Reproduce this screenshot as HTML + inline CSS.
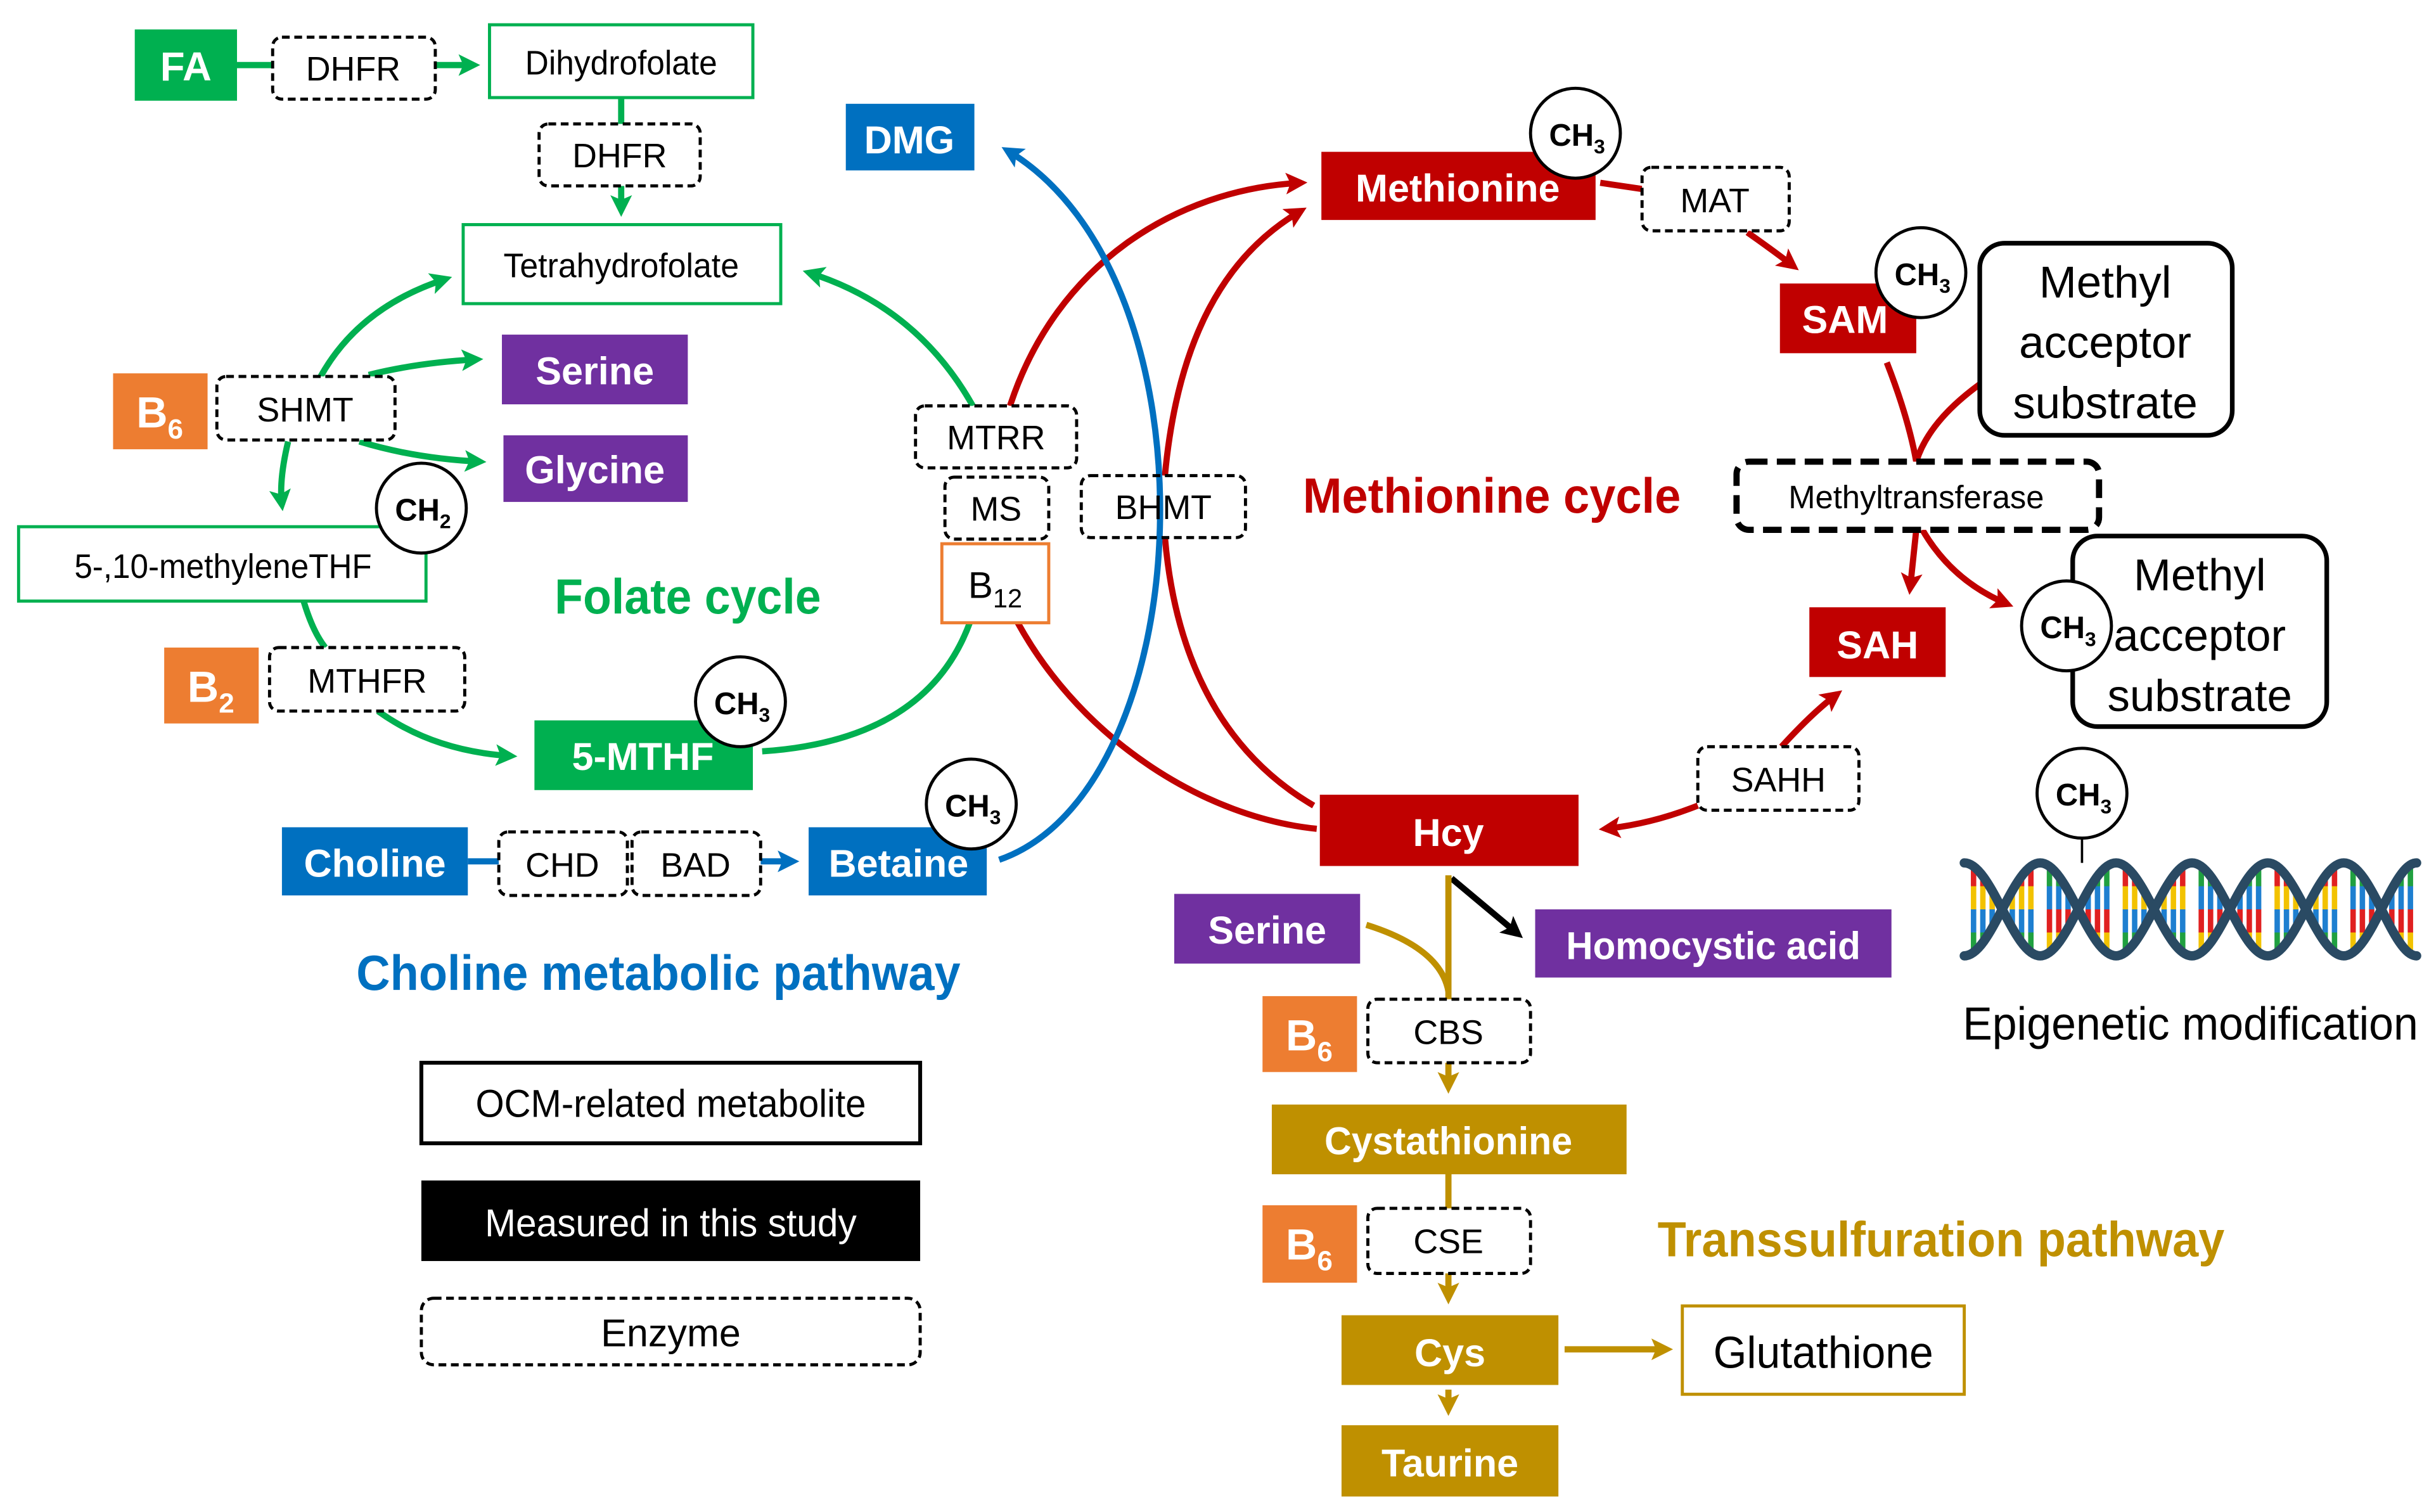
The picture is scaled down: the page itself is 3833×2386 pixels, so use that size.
<!DOCTYPE html>
<html><head><meta charset="utf-8"><style>
html,body{margin:0;padding:0;background:#fff;}
svg{display:block;}
text{font-family:"Liberation Sans Narrow","Liberation Sans",Arial,sans-serif;}
.w{fill:#fff;font-weight:bold;}
</style></head><body>
<svg width="3833" height="2386" viewBox="0 0 1568 976" preserveAspectRatio="none" xmlns="http://www.w3.org/2000/svg">
<defs>
<marker id="ag" markerUnits="userSpaceOnUse" markerWidth="18" markerHeight="18" refX="10" refY="7" orient="auto"><path d="M0,0 L14,7 L0,14 L3,7z" fill="#00b050"/></marker>
<marker id="ab" markerUnits="userSpaceOnUse" markerWidth="18" markerHeight="18" refX="10" refY="7" orient="auto"><path d="M0,0 L14,7 L0,14 L3,7z" fill="#0070c0"/></marker>
<marker id="ar" markerUnits="userSpaceOnUse" markerWidth="18" markerHeight="18" refX="10" refY="7" orient="auto"><path d="M0,0 L14,7 L0,14 L3,7z" fill="#c00000"/></marker>
<marker id="ay" markerUnits="userSpaceOnUse" markerWidth="18" markerHeight="18" refX="10" refY="7" orient="auto"><path d="M0,0 L14,7 L0,14 L3,7z" fill="#bf9000"/></marker>
<marker id="ak" markerUnits="userSpaceOnUse" markerWidth="18" markerHeight="18" refX="10" refY="7" orient="auto"><path d="M0,0 L14,7 L0,14 L3,7z" fill="#000"/></marker>
<linearGradient id="rg" gradientUnits="userSpaceOnUse" x1="0" y1="557" x2="0" y2="617">
<stop offset="0" stop-color="#e02020"/><stop offset=".25" stop-color="#e02020"/><stop offset=".25" stop-color="#f2c200"/><stop offset=".5" stop-color="#f2c200"/><stop offset=".5" stop-color="#1e7fd0"/><stop offset=".75" stop-color="#1e7fd0"/><stop offset=".75" stop-color="#20a040"/><stop offset="1" stop-color="#20a040"/></linearGradient>
<linearGradient id="rg2" gradientUnits="userSpaceOnUse" x1="0" y1="557" x2="0" y2="617">
<stop offset="0" stop-color="#20a040"/><stop offset=".25" stop-color="#20a040"/><stop offset=".25" stop-color="#1e7fd0"/><stop offset=".5" stop-color="#1e7fd0"/><stop offset=".5" stop-color="#e02020"/><stop offset=".75" stop-color="#e02020"/><stop offset=".75" stop-color="#f2c200"/><stop offset="1" stop-color="#f2c200"/></linearGradient>
</defs>
<rect width="1568" height="976" fill="#fff"/>

<g fill="none" stroke-width="4">
<line x1="153" y1="42" x2="176" y2="42" stroke="#00b050"/>
<line x1="281" y1="42" x2="306" y2="42" stroke="#00b050" marker-end="url(#ag)"/>
<line x1="401" y1="63" x2="401" y2="80" stroke="#00b050"/>
<line x1="401" y1="120" x2="401" y2="136" stroke="#00b050" marker-end="url(#ag)"/>
<path d="M207,243 Q232,198 288,180" stroke="#00b050" marker-end="url(#ag)"/>
<path d="M238,242 Q270,234 308,232" stroke="#00b050" marker-end="url(#ag)"/>
<path d="M232,285 Q268,296 310,298" stroke="#00b050" marker-end="url(#ag)"/>
<path d="M186,285 Q180,310 182,326" stroke="#00b050" marker-end="url(#ag)"/>
<path d="M196,388 Q202,408 210,418" stroke="#00b050"/>
<path d="M244,459 Q280,485 330,488" stroke="#00b050" marker-end="url(#ag)"/>
<path d="M492,485 Q598,478 626,402" stroke="#00b050"/>
<path d="M628,262 Q592,198 522,176" stroke="#00b050" marker-end="url(#ag)"/>
<path d="M652,262 C682,170 760,122 840,118" stroke="#c00000" marker-end="url(#ar)"/>
<path d="M752,307 C760,220 790,165 840,136" stroke="#c00000" marker-end="url(#ar)"/>
<path d="M657,402 C700,480 780,528 850,535" stroke="#c00000"/>
<path d="M752,347 C760,440 800,492 848,520" stroke="#c00000"/>
<path d="M1033,118 L1060,122" stroke="#c00000"/>
<path d="M1128,150 Q1145,162 1158,172" stroke="#c00000" marker-end="url(#ar)"/>
<path d="M1218,234 Q1232,270 1237,298" stroke="#c00000"/>
<path d="M1278,248 Q1245,272 1237,298" stroke="#c00000"/>
<path d="M1237,342 L1233,380" stroke="#c00000" marker-end="url(#ar)"/>
<path d="M1241,342 Q1260,375 1296,390" stroke="#c00000" marker-end="url(#ar)"/>
<path d="M1150,482 Q1170,460 1186,448" stroke="#c00000" marker-end="url(#ar)"/>
<path d="M1096,520 Q1066,532 1036,535" stroke="#c00000" marker-end="url(#ar)"/>
<line x1="302" y1="556" x2="322" y2="556" stroke="#0070c0"/>
<line x1="491" y1="556" x2="512" y2="556" stroke="#0070c0" marker-end="url(#ab)"/>
<path d="M645,555 C775,510 790,180 650,97" stroke="#0070c0" marker-end="url(#ab)"/>
<line x1="937" y1="567" x2="980" y2="603" stroke="#000" marker-end="url(#ak)"/>
<line x1="935" y1="565" x2="935" y2="645" stroke="#bf9000"/>
<path d="M882,597 Q930,612 935,640" stroke="#bf9000"/>
<line x1="935" y1="686" x2="935" y2="702" stroke="#bf9000" marker-end="url(#ay)"/>
<line x1="935" y1="758" x2="935" y2="780" stroke="#bf9000"/>
<line x1="935" y1="822" x2="935" y2="838" stroke="#bf9000" marker-end="url(#ay)"/>
<line x1="1010" y1="871" x2="1076" y2="871" stroke="#bf9000" marker-end="url(#ay)"/>
<line x1="935" y1="897" x2="935" y2="910" stroke="#bf9000" marker-end="url(#ay)"/>
</g>

<rect x="87" y="19" width="66" height="46" fill="#00b050"/>
<text x="120" y="52" font-size="26" class="w" text-anchor="middle">FA</text>
<rect x="176" y="24" width="105" height="40" rx="6" fill="#fff" stroke="#000" stroke-width="2" stroke-dasharray="5,3"/>
<text x="228" y="52" font-size="22" text-anchor="middle">DHFR</text>
<rect x="316" y="16" width="170" height="47" fill="#fff" stroke="#00b050" stroke-width="2"/>
<text x="401" y="48" font-size="22" text-anchor="middle" textLength="124" lengthAdjust="spacingAndGlyphs">Dihydrofolate</text>
<rect x="348" y="80" width="104" height="40" rx="6" fill="#fff" stroke="#000" stroke-width="2" stroke-dasharray="5,3"/>
<text x="400" y="108" font-size="22" text-anchor="middle">DHFR</text>
<rect x="299" y="145" width="205" height="51" fill="#fff" stroke="#00b050" stroke-width="2"/>
<text x="401" y="179" font-size="22" text-anchor="middle" textLength="152" lengthAdjust="spacingAndGlyphs">Tetrahydrofolate</text>

<rect x="73" y="241" width="61" height="49" fill="#ed7d31"/>
<text x="88" y="276" font-size="28" class="w">B<tspan font-size="18" dy="7">6</tspan></text>
<rect x="140" y="243" width="115" height="41" rx="6" fill="#fff" stroke="#000" stroke-width="2" stroke-dasharray="5,3"/>
<text x="197" y="272" font-size="22" text-anchor="middle">SHMT</text>
<rect x="324" y="216" width="120" height="45" fill="#7030a0"/>
<text x="384" y="248" font-size="25" class="w" text-anchor="middle">Serine</text>
<rect x="325" y="281" width="119" height="43" fill="#7030a0"/>
<text x="384" y="312" font-size="25" class="w" text-anchor="middle">Glycine</text>

<rect x="12" y="340" width="263" height="48" fill="#fff" stroke="#00b050" stroke-width="2"/>
<text x="144" y="373" font-size="22" text-anchor="middle" textLength="192" lengthAdjust="spacingAndGlyphs">5-,10-methyleneTHF</text>
<circle cx="272" cy="328" r="29" fill="#fff" stroke="#000" stroke-width="2"/>
<text x="255" y="336" font-size="20" font-weight="bold">CH<tspan font-size="13" dy="5">2</tspan></text>

<text x="444" y="396" font-size="32" font-weight="bold" fill="#00b050" text-anchor="middle" textLength="172" lengthAdjust="spacingAndGlyphs">Folate cycle</text>

<rect x="106" y="418" width="61" height="49" fill="#ed7d31"/>
<text x="121" y="453" font-size="28" class="w">B<tspan font-size="18" dy="7">2</tspan></text>
<rect x="174" y="418" width="126" height="41" rx="6" fill="#fff" stroke="#000" stroke-width="2" stroke-dasharray="5,3"/>
<text x="237" y="447" font-size="22" text-anchor="middle">MTHFR</text>
<rect x="345" y="465" width="141" height="45" fill="#00b050"/>
<text x="415" y="497" font-size="25" class="w" text-anchor="middle">5-MTHF</text>
<circle cx="478" cy="453" r="29" fill="#fff" stroke="#000" stroke-width="2"/>
<text x="461" y="461" font-size="20" font-weight="bold">CH<tspan font-size="13" dy="5">3</tspan></text>

<rect x="182" y="534" width="120" height="44" fill="#0070c0"/>
<text x="242" y="566" font-size="25" class="w" text-anchor="middle">Choline</text>
<rect x="322" y="537" width="83" height="41" rx="6" fill="#fff" stroke="#000" stroke-width="2" stroke-dasharray="5,3"/>
<text x="363" y="566" font-size="22" text-anchor="middle">CHD</text>
<rect x="408" y="537" width="83" height="41" rx="6" fill="#fff" stroke="#000" stroke-width="2" stroke-dasharray="5,3"/>
<text x="449" y="566" font-size="22" text-anchor="middle">BAD</text>
<rect x="522" y="534" width="115" height="44" fill="#0070c0"/>
<text x="580" y="566" font-size="25" class="w" text-anchor="middle">Betaine</text>
<circle cx="627" cy="519" r="29" fill="#fff" stroke="#000" stroke-width="2"/>
<text x="610" y="527" font-size="20" font-weight="bold">CH<tspan font-size="13" dy="5">3</tspan></text>
<text x="425" y="639" font-size="32" font-weight="bold" fill="#0070c0" text-anchor="middle" textLength="390" lengthAdjust="spacingAndGlyphs">Choline metabolic pathway</text>

<rect x="546" y="67" width="83" height="43" fill="#0070c0"/>
<text x="587" y="99" font-size="25" class="w" text-anchor="middle">DMG</text>

<rect x="591" y="262" width="104" height="40" rx="6" fill="#fff" stroke="#000" stroke-width="2" stroke-dasharray="5,3"/>
<text x="643" y="290" font-size="22" text-anchor="middle">MTRR</text>
<rect x="610" y="308" width="67" height="40" rx="6" fill="#fff" stroke="#000" stroke-width="2" stroke-dasharray="5,3"/>
<text x="643" y="336" font-size="22" text-anchor="middle">MS</text>
<rect x="608" y="351" width="69" height="51" fill="#fff" stroke="#ed7d31" stroke-width="2"/>
<text x="625" y="386" font-size="24">B<tspan font-size="17" dy="6">12</tspan></text>
<rect x="698" y="307" width="106" height="40" rx="6" fill="none" stroke="#000" stroke-width="2" stroke-dasharray="5,3"/>
<text x="751" y="335" font-size="22" text-anchor="middle">BHMT</text>

<rect x="853" y="98" width="177" height="44" fill="#c00000"/>
<text x="941" y="130" font-size="25" class="w" text-anchor="middle">Methionine</text>
<circle cx="1017" cy="86" r="29" fill="#fff" stroke="#000" stroke-width="2"/>
<text x="1000" y="94" font-size="20" font-weight="bold">CH<tspan font-size="13" dy="5">3</tspan></text>
<rect x="1060" y="108" width="95" height="41" rx="6" fill="#fff" stroke="#000" stroke-width="2" stroke-dasharray="5,3"/>
<text x="1107" y="137" font-size="22" text-anchor="middle">MAT</text>
<rect x="1149" y="183" width="88" height="45" fill="#c00000"/>
<text x="1191" y="215" font-size="25" class="w" text-anchor="middle">SAM</text>
<circle cx="1240" cy="176" r="29" fill="#fff" stroke="#000" stroke-width="2"/>
<text x="1223" y="184" font-size="20" font-weight="bold">CH<tspan font-size="13" dy="5">3</tspan></text>
<rect x="1278" y="157" width="163" height="124" rx="16" fill="#fff" stroke="#000" stroke-width="3"/>
<text x="1359" y="192" font-size="29" text-anchor="middle">Methyl</text>
<text x="1359" y="231" font-size="29" text-anchor="middle">acceptor</text>
<text x="1359" y="270" font-size="29" text-anchor="middle">substrate</text>
<text x="963" y="331" font-size="32" font-weight="bold" fill="#c00000" text-anchor="middle" textLength="244" lengthAdjust="spacingAndGlyphs">Methionine cycle</text>
<rect x="1121" y="298" width="234" height="44" rx="8" fill="#fff" stroke="#000" stroke-width="4" stroke-dasharray="12,6"/>
<text x="1237" y="328" font-size="21" text-anchor="middle" textLength="165" lengthAdjust="spacingAndGlyphs">Methyltransferase</text>
<rect x="1168" y="392" width="88" height="45" fill="#c00000"/>
<text x="1212" y="425" font-size="25" class="w" text-anchor="middle">SAH</text>
<rect x="1338" y="346" width="164" height="123" rx="16" fill="#fff" stroke="#000" stroke-width="3"/>
<text x="1420" y="381" font-size="29" text-anchor="middle">Methyl</text>
<text x="1420" y="420" font-size="29" text-anchor="middle">acceptor</text>
<text x="1420" y="459" font-size="29" text-anchor="middle">substrate</text>
<circle cx="1334" cy="404" r="29" fill="#fff" stroke="#000" stroke-width="2"/>
<text x="1317" y="412" font-size="20" font-weight="bold">CH<tspan font-size="13" dy="5">3</tspan></text>
<rect x="1096" y="482" width="104" height="41" rx="6" fill="#fff" stroke="#000" stroke-width="2" stroke-dasharray="5,3"/>
<text x="1148" y="511" font-size="22" text-anchor="middle">SAHH</text>
<rect x="852" y="513" width="167" height="46" fill="#c00000"/>
<text x="935" y="546" font-size="25" class="w" text-anchor="middle">Hcy</text>

<rect x="758" y="577" width="120" height="45" fill="#7030a0"/>
<text x="818" y="609" font-size="25" class="w" text-anchor="middle">Serine</text>
<rect x="991" y="587" width="230" height="44" fill="#7030a0"/>
<text x="1106" y="619" font-size="25" class="w" text-anchor="middle" textLength="190" lengthAdjust="spacingAndGlyphs">Homocystic acid</text>
<rect x="815" y="643" width="61" height="49" fill="#ed7d31"/>
<text x="830" y="678" font-size="28" class="w">B<tspan font-size="18" dy="7">6</tspan></text>
<rect x="883" y="645" width="105" height="41" rx="6" fill="#fff" stroke="#000" stroke-width="2" stroke-dasharray="5,3"/>
<text x="935" y="674" font-size="22" text-anchor="middle">CBS</text>
<rect x="821" y="713" width="229" height="45" fill="#bf9000"/>
<text x="935" y="745" font-size="25" class="w" text-anchor="middle" textLength="160" lengthAdjust="spacingAndGlyphs">Cystathionine</text>
<rect x="815" y="778" width="61" height="50" fill="#ed7d31"/>
<text x="830" y="813" font-size="28" class="w">B<tspan font-size="18" dy="7">6</tspan></text>
<rect x="883" y="780" width="105" height="42" rx="6" fill="#fff" stroke="#000" stroke-width="2" stroke-dasharray="5,3"/>
<text x="935" y="809" font-size="22" text-anchor="middle">CSE</text>
<text x="1253" y="811" font-size="32" font-weight="bold" fill="#bf9000" text-anchor="middle" textLength="366" lengthAdjust="spacingAndGlyphs">Transsulfuration pathway</text>
<rect x="866" y="849" width="140" height="45" fill="#bf9000"/>
<text x="936" y="882" font-size="25" class="w" text-anchor="middle">Cys</text>
<rect x="1086" y="843" width="182" height="57" fill="#fff" stroke="#bf9000" stroke-width="2"/>
<text x="1177" y="883" font-size="29" text-anchor="middle" textLength="142" lengthAdjust="spacingAndGlyphs">Glutathione</text>
<rect x="866" y="920" width="140" height="46" fill="#bf9000"/>
<text x="936" y="953" font-size="25" class="w" text-anchor="middle">Taurine</text>

<g stroke-width="3.5">
<g stroke="url(#rg)">
<line x1="1274" y1="559" x2="1274" y2="615"/><line x1="1280" y1="565" x2="1280" y2="609"/><line x1="1286" y1="575" x2="1286" y2="599"/>
<line x1="1299" y1="575" x2="1299" y2="599"/><line x1="1305" y1="565" x2="1305" y2="609"/><line x1="1311" y1="559" x2="1311" y2="615"/>
<line x1="1372" y1="559" x2="1372" y2="615"/><line x1="1378" y1="565" x2="1378" y2="609"/><line x1="1384" y1="575" x2="1384" y2="599"/>
<line x1="1397" y1="575" x2="1397" y2="599"/><line x1="1403" y1="565" x2="1403" y2="609"/><line x1="1409" y1="559" x2="1409" y2="615"/>
<line x1="1470" y1="559" x2="1470" y2="615"/><line x1="1476" y1="565" x2="1476" y2="609"/><line x1="1482" y1="575" x2="1482" y2="599"/>
<line x1="1495" y1="575" x2="1495" y2="599"/><line x1="1501" y1="565" x2="1501" y2="609"/><line x1="1507" y1="559" x2="1507" y2="615"/>
</g>
<g stroke="url(#rg2)">
<line x1="1323" y1="559" x2="1323" y2="615"/><line x1="1329" y1="565" x2="1329" y2="609"/><line x1="1335" y1="575" x2="1335" y2="599"/>
<line x1="1348" y1="575" x2="1348" y2="599"/><line x1="1354" y1="565" x2="1354" y2="609"/><line x1="1360" y1="559" x2="1360" y2="615"/>
<line x1="1421" y1="559" x2="1421" y2="615"/><line x1="1427" y1="565" x2="1427" y2="609"/><line x1="1433" y1="575" x2="1433" y2="599"/>
<line x1="1446" y1="575" x2="1446" y2="599"/><line x1="1452" y1="565" x2="1452" y2="609"/><line x1="1458" y1="559" x2="1458" y2="615"/>
<line x1="1519" y1="559" x2="1519" y2="615"/><line x1="1525" y1="565" x2="1525" y2="609"/><line x1="1531" y1="575" x2="1531" y2="599"/>
<line x1="1544" y1="575" x2="1544" y2="599"/><line x1="1550" y1="565" x2="1550" y2="609"/><line x1="1556" y1="559" x2="1556" y2="615"/>
</g>
</g>
<g fill="none" stroke="#2a4a63" stroke-width="6" stroke-linecap="round">
<path d="M1268,557 C1285.6,557 1299.4,617 1317,617 S1348.4,557 1366,557 S1397.4,617 1415,617 S1446.4,557 1464,557 S1495.4,617 1513,617 S1544.4,557 1560,557"/>
<path d="M1268,617 C1285.6,617 1299.4,557 1317,557 S1348.4,617 1366,617 S1397.4,557 1415,557 S1446.4,617 1464,617 S1495.4,557 1513,557 S1544.4,617 1560,617"/>
</g>
<line x1="1344" y1="541" x2="1344" y2="557" stroke="#000" stroke-width="1.5"/>
<circle cx="1344" cy="512" r="29" fill="#fff" stroke="#000" stroke-width="2"/>
<text x="1327" y="520" font-size="20" font-weight="bold">CH<tspan font-size="13" dy="5">3</tspan></text>
<text x="1414" y="671" font-size="30" text-anchor="middle" textLength="294" lengthAdjust="spacingAndGlyphs">Epigenetic modification</text>

<rect x="272" y="686" width="322" height="52" fill="#fff" stroke="#000" stroke-width="2.5"/>
<text x="433" y="721" font-size="25" text-anchor="middle" textLength="252" lengthAdjust="spacingAndGlyphs">OCM-related metabolite</text>
<rect x="272" y="762" width="322" height="52" fill="#000"/>
<text x="433" y="798" font-size="25" fill="#fff" text-anchor="middle" textLength="240" lengthAdjust="spacingAndGlyphs">Measured in this study</text>
<rect x="272" y="838" width="322" height="43" rx="8" fill="#fff" stroke="#000" stroke-width="2" stroke-dasharray="5,3"/>
<text x="433" y="869" font-size="25" text-anchor="middle">Enzyme</text>
</svg>
</body></html>
